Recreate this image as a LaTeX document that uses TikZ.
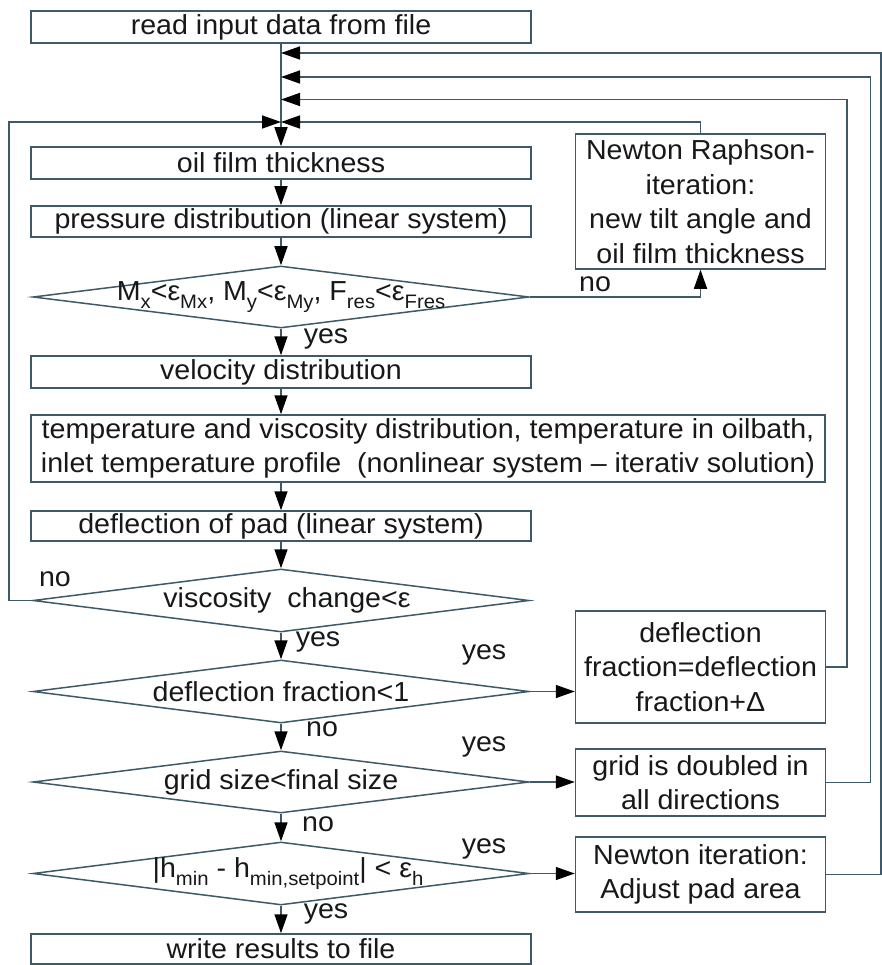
\documentclass[tikz,border=0pt]{standalone}
\usepackage{fontspec}
\setmainfont[FakeStretch=1.04]{Liberation Sans}
\usetikzlibrary{arrows.meta,shapes.geometric}
\definecolor{lc}{RGB}{62,90,104}
\definecolor{tc}{RGB}{22,24,26}
\newcommand\fs{\fontsize{27.5}{34.5}\selectfont}
\newcommand\sbs[1]{\raisebox{-0.3em}{\fontsize{19.5}{19.5}\selectfont #1}}
\tikzset{
  conn/.style={draw=lc, line width=1.5pt},
  arr/.style={conn, -{Triangle[length=19pt,width=13pt,fill=black,color=black]}},
  boxn/.style={draw=lc, line width=1.5pt, fill=white, inner sep=0pt, text=tc, font=\fs, align=center},
  dia/.style={diamond, draw=lc, line width=1.5pt, fill=white, inner sep=0pt, minimum width=496pt},
  txt/.style={text=tc, font=\fs, inner sep=0pt, align=center},
}
\begin{document}
\begin{tikzpicture}[x=1pt,y=-1pt]
\useasboundingbox[fill=white] (0,0) rectangle (881,965);
% main column
\node[boxn, minimum width=500pt, minimum height=32pt] (read) at (281,27) {read input data from file};
\node[boxn, minimum width=500pt, minimum height=32pt] (oil) at (281,163) {oil film thickness};
\node[boxn, minimum width=500pt, minimum height=31pt] (pres) at (281,221.5) {pressure distribution (linear system)};
\node[dia, minimum height=62pt] (d1) at (281,297) {};
\node[txt] (d1t) at (281,297) {M\sbs{x}<ε\sbs{Mx}, M\sbs{y}<ε\sbs{My}, F\sbs{res}<ε\sbs{Fres}};
\node[boxn, minimum width=500pt, minimum height=32pt] (vel) at (281,372) {velocity distribution};
\node[boxn, minimum width=794pt, minimum height=67pt] (temp) at (428,448.5) {temperature and viscosity distribution, temperature in oilbath,\\inlet temperature profile\ \ (nonlinear system -- iterativ solution)};
\node[boxn, minimum width=500pt, minimum height=30pt] (pad) at (281,526) {deflection of pad (linear system)};
\node[dia, minimum height=63pt] (d2) at (281,600.5) {};
\node[txt] (d2t) at (287,600.5) {viscosity\ \ change<ε};
\node[dia, minimum height=63pt] (d3) at (281,691.5) {};
\node[txt] (d3t) at (281,691.5) {deflection fraction<1};
\node[dia, minimum height=62pt] (d4) at (281,782) {};
\node[txt] (d4t) at (281,782) {grid size<final size};
\node[dia, minimum height=63pt] (d5) at (281,873.5) {};
\node[txt] (d5t) at (288,873.5) {|h\sbs{min} - h\sbs{min,setpoint}| < ε\sbs{h}};
\node[boxn, minimum width=500pt, minimum height=30pt] (write) at (281,949) {write results to file};
% right column
\node[boxn, minimum width=250pt, minimum height=135pt] (nr) at (700.5,201.5) {Newton Raphson-\\iteration:\\new tilt angle and\\oil film thickness};
\node[boxn, minimum width=250pt, minimum height=112pt] (dfb) at (700.5,667) {deflection\\fraction=deflection\\fraction+Δ};
\node[boxn, minimum width=250pt, minimum height=67pt] (grb) at (700.5,782.5) {grid is doubled in\\all directions};
\node[boxn, minimum width=250pt, minimum height=75pt] (nib) at (700.5,874.5) {Newton iteration:\\Adjust pad area};
% junction points on main line
\coordinate (j1) at (281,53);
\coordinate (j2) at (281,77);
\coordinate (j3) at (281,99.5);
\coordinate (j4) at (281,122);
\coordinate (rA) at (881,0);
\coordinate (rB) at (870.5,0);
\coordinate (rC) at (847,0);
\coordinate (lL) at (9,0);
% main flow
\draw[arr] (read.south) -- (oil.north);
\draw[arr] (oil.south) -- (pres.north);
\draw[arr] (pres.south) -- (d1.north);
\draw[arr] (d1.south) -- (vel.north);
\draw[arr] (vel.south) -- (vel.south |- temp.north);
\draw[arr] (pad.north |- temp.south) -- (pad.north);
\draw[arr] (pad.south) -- (d2.north);
\draw[arr] (d2.south) -- (d3.north);
\draw[arr] (d3.south) -- (d4.north);
\draw[arr] (d4.south) -- (d5.north);
\draw[arr] (d5.south) -- (write.north);
% loops
\draw[arr] (d2.west) -- (d2.west -| lL) -- (lL |- j4) -- (j4);
\draw[arr] (d1.east) -| (nr.south);
\draw[arr] (nr.north) |- (j4);
\draw[arr] (d3.east) -- (d3.east -| dfb.west);
\draw[arr] (dfb.east) -- (dfb.east -| rC) -- (rC |- j3) -- (j3);
\draw[arr] (d4.east) -- (d4.east -| grb.west);
\draw[arr] (grb.east) -- (grb.east -| rB) -- (rB |- j2) -- (j2);
\draw[arr] (d5.east) -- (d5.east -| nib.west);
\draw[arr] (nib.east) -- (nib.east -| rA) -- (rA |- j1) -- (j1);
% yes / no labels
\node[txt] (n1) at (595,284) {no};
\node[txt] (y1) at (326,339) {yes};
\node[txt] (n2) at (55,579) {no};
\node[txt] (y2) at (318,642) {yes};
\node[txt] (y3) at (484,655) {yes};
\node[txt] (n3) at (322,729) {no};
\node[txt] (y4) at (484,747) {yes};
\node[txt] (n4) at (318,824) {no};
\node[txt] (y5) at (484,849) {yes};
\node[txt] (y6) at (326,914) {yes};
\end{tikzpicture}
\end{document}
